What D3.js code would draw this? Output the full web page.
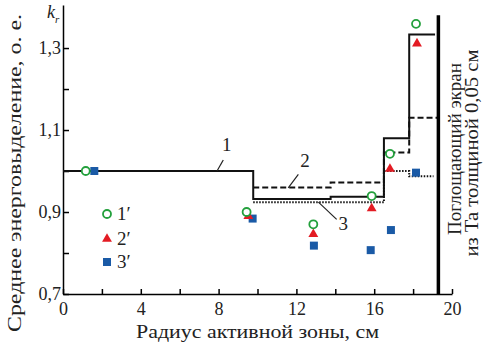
<!DOCTYPE html>
<html>
<head>
<meta charset="utf-8">
<script src="https://cdn.jsdelivr.net/npm/d3@7"></script>
<style>
  body { margin: 0; background: #fff; }
  svg text { font-family: "Liberation Serif", "Times New Roman", Times, "DejaVu Serif", serif !important; }
  .axis path, .axis line { stroke: #000; stroke-width: 1.5px; }
  .axis text { font-size: 18px; fill: #222; }
</style>
</head>
<body>
<div id="chart"></div>
<script>
// step lines (edges in cm, level per interval)
const line1Edges = [0, 9.78, 13.76, 16.5, 17.8, 19.13]
const line1Values = [1.0, 0.932, 0.937, 1.08, 1.333]
const line2Edges = [9.78, 13.76, 16.5, 17.8, 19.3]
const line2Values = [0.96, 0.972, 1.045, 1.13]
const line3Edges = [9.78, 16.5, 17.8, 19.05]
const line3Values = [0.924, 1.0, 0.987]

// measured points
const circleX = [1.17, 9.44, 12.87, 15.87, 16.81, 18.15]
const circleY = [1.0, 0.9, 0.87, 0.939, 1.042, 1.359]
const triangleX = [9.53, 12.87, 15.87, 16.81, 18.2]
const triangleY = [0.89, 0.846, 0.909, 1.005, 1.311]
const squareX = [1.61, 9.75, 12.9, 15.82, 16.86, 18.15]
const squareY = [1.0, 0.884, 0.818, 0.807, 0.856, 0.996]

const xTicks = [0, 2, 4, 6, 8, 10, 12, 14, 16, 18, 20]
const xLabels = [0, 4, 8, 12, 16, 20]
const yTicks = [0.7, 0.8, 0.9, 1.0, 1.1, 1.2, 1.3]
const yLabels = [0.7, 0.9, 1.1, 1.3]

const screenX = 19.3

const width = 493
const height = 345
const margin = { left: 63, right: 41, top: 5, bottom: 51 }

const serif = '"Liberation Serif", "Times New Roman", Times, "DejaVu Serif", serif'
const green = '#23a03c'
const red = '#e31b23'
const blue = '#1a5aa6'

const svg = d3.select('#chart').append('svg').attr('width', width).attr('height', height)
  .attr('font-family', serif)

const x = d3.scaleLinear().domain([0, 20]).range([margin.left, width - margin.right])
const y = d3.scaleLinear().domain([0.7, 1.405]).range([height - margin.bottom, margin.top])

const fmt = (v) => String(v).replace('.', ',')

// axes
svg.append('g')
  .attr('class', 'axis')
  .attr('transform', `translate(0,${y(0.7)})`)
  .call(d3.axisBottom(x).tickValues(xTicks).tickSizeInner(-5).tickSizeOuter(0).tickPadding(8)
    .tickFormat((d) => (xLabels.includes(d) ? d : '')))
  .attr('font-family', serif)
  .call((g) => g.selectAll('.tick line').attr('stroke-width', 1.2))

svg.append('g')
  .attr('class', 'axis')
  .attr('transform', `translate(${x(0)},0)`)
  .call(d3.axisLeft(y).tickValues(yTicks).tickSizeInner(-6).tickSizeOuter(0).tickPadding(2)
    .tickFormat((d) => (yLabels.some((l) => Math.abs(l - d) < 1e-9) ? fmt(d) : '')))
  .attr('font-family', serif)
  .call((g) => g.selectAll('.tick line').attr('stroke-width', 1.2))

// step lines
const stepPoints = (edges, values) => edges.map((e, i) => [e, values[Math.min(i, values.length - 1)]])
const stepLine = d3.line().x((d) => x(d[0])).y((d) => y(d[1])).curve(d3.curveStepAfter)

svg.append('path')
  .attr('d', stepLine(stepPoints(line3Edges, line3Values)))
  .attr('fill', 'none').attr('stroke', '#111').attr('stroke-width', 2)
  .attr('stroke-dasharray', '1.5,1.5')

svg.append('path')
  .attr('d', stepLine(stepPoints(line2Edges, line2Values)))
  .attr('fill', 'none').attr('stroke', '#111').attr('stroke-width', 2)
  .attr('stroke-dasharray', '6,3')

svg.append('path')
  .attr('d', stepLine(stepPoints(line1Edges, line1Values)))
  .attr('fill', 'none').attr('stroke', '#111').attr('stroke-width', 2)

// absorbing screen
svg.append('line')
  .attr('x1', x(screenX)).attr('x2', x(screenX))
  .attr('y1', y(0.7)).attr('y2', y(1.38))
  .attr('stroke', '#000').attr('stroke-width', 3.5)

// curve labels with leaders
const curveLabels = [
  { text: '1', from: [7.92, 1.0], to: [8.24, 1.027], at: [8.42, 1.049] },
  { text: '2', from: [11.58, 0.959], to: [12.1, 0.992], at: [12.44, 1.01] },
  { text: '3', from: [13.13, 0.924], to: [14.07, 0.882], at: [14.41, 0.856] }
]
curveLabels.forEach((l) => {
  svg.append('line')
    .attr('x1', x(l.from[0])).attr('y1', y(l.from[1]))
    .attr('x2', x(l.to[0])).attr('y2', y(l.to[1]))
    .attr('stroke', '#222').attr('stroke-width', 1.2)
  svg.append('text')
    .attr('x', x(l.at[0])).attr('y', y(l.at[1]))
    .attr('text-anchor', 'middle').attr('font-size', 19).attr('fill', '#222')
    .text(l.text)
})

// markers
const triangle = d3.symbol().type(d3.symbolTriangle).size(42)
const square = d3.symbol().type(d3.symbolSquare).size(64)

svg.append('g').selectAll('path')
  .data(squareX.map((v, i) => [v, squareY[i]]))
  .enter().append('path')
  .attr('d', square)
  .attr('transform', (d) => `translate(${x(d[0])},${y(d[1])})`)
  .attr('fill', blue)

svg.append('g').selectAll('path')
  .data(triangleX.map((v, i) => [v, triangleY[i]]))
  .enter().append('path')
  .attr('d', triangle)
  .attr('transform', (d) => `translate(${x(d[0])},${y(d[1])})`)
  .attr('fill', red)

svg.append('g').selectAll('circle')
  .data(circleX.map((v, i) => [v, circleY[i]]))
  .enter().append('circle')
  .attr('cx', (d) => x(d[0])).attr('cy', (d) => y(d[1]))
  .attr('r', 4)
  .attr('fill', '#fff').attr('stroke', green).attr('stroke-width', 1.8)

// legend
const legend = svg.append('g').attr('transform', 'translate(107,214)')
legend.append('circle').attr('cx', 0).attr('cy', 0).attr('r', 4)
  .attr('fill', '#fff').attr('stroke', green).attr('stroke-width', 1.8)
legend.append('path').attr('d', triangle).attr('transform', 'translate(0,25)').attr('fill', red)
legend.append('path').attr('d', square).attr('transform', 'translate(0,48)').attr('fill', blue)
;['1′', '2′', '3′'].forEach((t, i) => {
  legend.append('text')
    .attr('x', 10).attr('y', [6, 31, 54][i])
    .attr('font-size', 19).attr('fill', '#222')
    .text(t)
})

// axis titles
svg.append('text')
  .attr('x', (x(0) + x(20)) / 2).attr('y', 338)
  .attr('text-anchor', 'middle').attr('font-size', 18).attr('fill', '#222')
  .attr('textLength', 243).attr('lengthAdjust', 'spacingAndGlyphs')
  .text('Радиус активной зоны, см')

svg.append('text')
  .attr('transform', 'translate(21,173) rotate(-90)')
  .attr('text-anchor', 'middle').attr('font-size', 19).attr('fill', '#222')
  .attr('textLength', 318).attr('lengthAdjust', 'spacingAndGlyphs')
  .text('Среднее энерговыделение, о. е.')

const kr = svg.append('text').attr('x', 47).attr('y', 18).attr('fill', '#222')
kr.append('tspan').attr('font-size', 18).attr('font-style', 'italic').text('k')
kr.append('tspan').attr('font-size', 11).attr('font-style', 'italic').attr('dy', 5).text('r')

svg.append('text')
  .attr('transform', 'translate(461,149) rotate(-90)')
  .attr('text-anchor', 'middle').attr('font-size', 18).attr('fill', '#222')
  .attr('textLength', 172).attr('lengthAdjust', 'spacingAndGlyphs')
  .text('Поглощающий экран')

svg.append('text')
  .attr('transform', 'translate(478,153) rotate(-90)')
  .attr('text-anchor', 'middle').attr('font-size', 18).attr('fill', '#222')
  .attr('textLength', 207).attr('lengthAdjust', 'spacingAndGlyphs')
  .text('из Ta толщиной 0,05 см')
</script>
</body>
</html>
